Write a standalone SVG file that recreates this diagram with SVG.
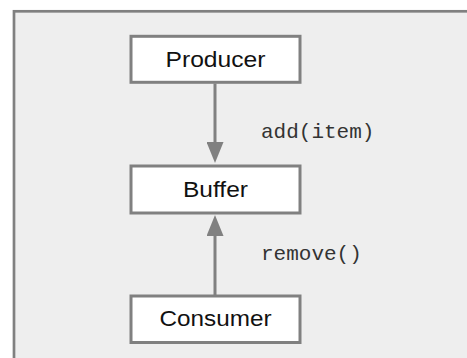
<svg xmlns="http://www.w3.org/2000/svg" width="467" height="358" viewBox="0 0 467 358">
  <style>
    .node rect { fill: #ffffff; stroke: #808080; stroke-width: 3; }
    .node text { font-family: "Liberation Sans", Arial, sans-serif; font-size: 22px; fill: #111111; text-anchor: middle; }
    .conn line { stroke: #808080; stroke-width: 3; }
    .lbl { font-family: "Liberation Mono", "Courier New", monospace; font-size: 21px; fill: #333333; }
  </style>
  <defs>
    <marker id="arrow" markerUnits="userSpaceOnUse" markerWidth="21" markerHeight="17" refX="11" refY="8.5" orient="auto">
      <path d="M0,0 L21,8.5 L0,17 z" fill="#808080"/>
    </marker>
  </defs>
  <rect x="0" y="0" width="467" height="358" fill="#ffffff"/>
  <rect id="frame" x="14" y="11.3" width="470" height="360" fill="#eeeeee" stroke="#808080" stroke-width="2.7"/>
  <g id="connectors" class="conn">
    <line x1="215" y1="83.5" x2="215" y2="153" marker-end="url(#arrow)"/>
    <line x1="215" y1="296" x2="215" y2="225" marker-end="url(#arrow)"/>
    <text class="lbl" x="261" y="138">add(item)</text>
    <text class="lbl" x="261" y="260">remove()</text>
  </g>
  <g id="producer" class="node">
    <rect x="131" y="36.3" width="169" height="46"/>
    <text x="215.5" y="67.3" textLength="100" lengthAdjust="spacingAndGlyphs">Producer</text>
  </g>
  <g id="buffer" class="node">
    <rect x="131" y="166" width="169" height="47"/>
    <text x="215.5" y="197.3" textLength="65" lengthAdjust="spacingAndGlyphs">Buffer</text>
  </g>
  <g id="consumer" class="node">
    <rect x="131" y="296" width="169" height="46.5"/>
    <text x="215.5" y="325.7" textLength="112" lengthAdjust="spacingAndGlyphs">Consumer</text>
  </g>
</svg>
